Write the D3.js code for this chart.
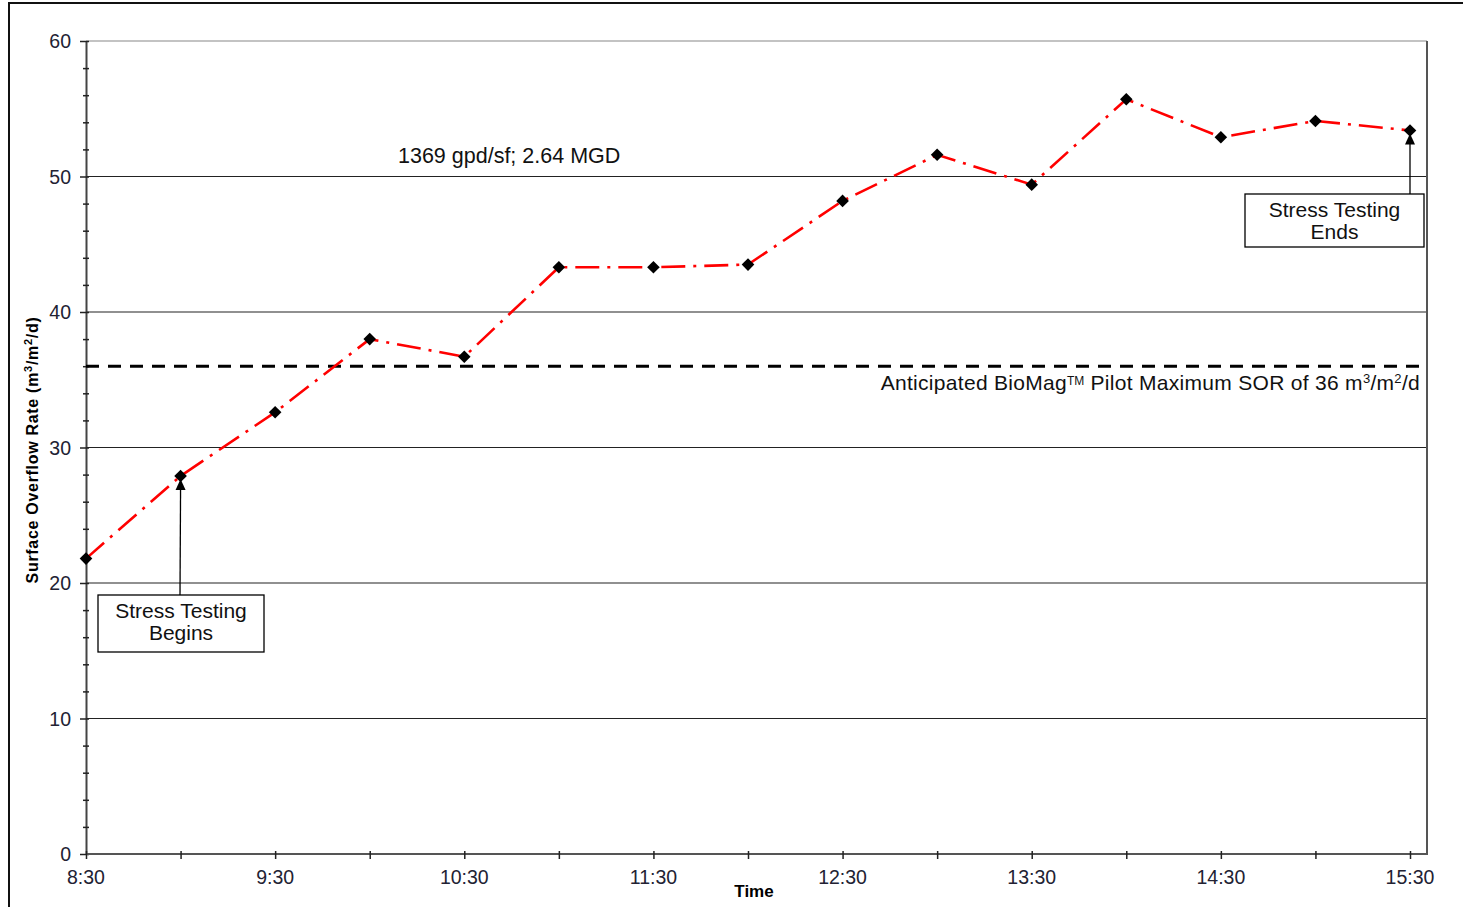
<!DOCTYPE html>
<html><head><meta charset="utf-8">
<script src="https://cdn.jsdelivr.net/npm/d3@7"></script>
<style>body{margin:0;background:#fff}svg{display:block;font-family:"Liberation Sans",Arial,sans-serif}</style>
</head><body>
<svg id="c" width="1463" height="907"></svg>
<script>
const times = ["8:30","9:00","9:30","10:00","10:30","11:00","11:30","12:00","12:30","13:00","13:30","14:00","14:30","15:00","15:30"];
const sor = [21.8,27.9,32.6,38.0,36.7,43.3,43.3,43.5,48.2,51.6,49.4,55.7,52.9,54.1,53.4];
const xTickLabels = ["8:30","9:30","10:30","11:30","12:30","13:30","14:30","15:30"];
const yTicks = [0,10,20,30,40,50,60];
const threshold = 36;
const topLabel = "1369 gpd/sf; 2.64 MGD";
const annotations = [{text:["Stress Testing","Begins"], idx:1}, {text:["Stress Testing","Ends"], idx:14}];

const toMin = s => { const [h,m] = s.split(":").map(Number); return h*60+m; };
const svg = d3.select("#c");
const L=86, R=1427, T=41, B=854;
const x = d3.scaleLinear().domain([510, 930]).range([L, 1410]);
const y = d3.scaleLinear().domain([0, 60]).range([B, T]);

// outer frame
svg.append("rect").attr("x",9).attr("y",3).attr("width",1470).attr("height",920)
  .attr("fill","none").attr("stroke","#111").attr("stroke-width",2);

// gridlines
svg.append("g").selectAll("line").data(yTicks.filter(d=>d>0)).join("line")
  .attr("x1",L).attr("x2",R).attr("y1",d=>y(d)).attr("y2",d=>y(d))
  .attr("stroke",d=>d===60?"#888":"#222").attr("stroke-width",1.2);
svg.append("line").attr("x1",R).attr("x2",R).attr("y1",T).attr("y2",B).attr("stroke","#888").attr("stroke-width",1.5);

// y axis
const yAxis = d3.axisLeft(y).tickValues(d3.range(0,61,2)).tickSize(0).tickFormat("");
const gy = svg.append("g").attr("transform",`translate(${L},0)`).call(yAxis);
gy.select(".domain").attr("stroke","#444").attr("stroke-width",2);
gy.selectAll(".tick line").attr("x1",d=>d%10===0?-6:-3).attr("x2",3).attr("stroke","#222").attr("stroke-width",1.5);
svg.append("g").selectAll("text").data(yTicks).join("text")
  .attr("x",71).attr("y",d=>y(d)+7).attr("text-anchor","end").attr("font-size",19.5).attr("fill","#223")
  .text(d=>d);

// x axis
const xAxis = d3.axisBottom(x).tickValues(times.map(toMin)).tickSize(0).tickFormat("");
const gx = svg.append("g").attr("transform",`translate(0,${B})`).call(xAxis);
gx.select(".domain").attr("d",`M${L},0H${R}V${-(B-T)}`).attr("stroke","#555").attr("stroke-width",2);
gx.selectAll(".tick line").attr("y1",-3).attr("y2",5).attr("stroke","#222").attr("stroke-width",1.5);
svg.append("g").selectAll("text").data(xTickLabels).join("text")
  .attr("x",d=>x(toMin(d))).attr("y",884).attr("text-anchor","middle").attr("font-size",19.5).attr("fill","#223")
  .text(d=>d);

// axis titles
svg.append("text").attr("x",754).attr("y",897).attr("text-anchor","middle").attr("font-size",17).attr("font-weight","bold").text("Time");
const yt = svg.append("text").attr("transform","translate(38,450) rotate(-90)").attr("text-anchor","middle")
  .attr("font-size",16).attr("font-weight","bold").attr("letter-spacing",0.7);
yt.append("tspan").text("Surface Overflow Rate (m");
yt.append("tspan").attr("font-size",11).attr("dy",-6).text("3");
yt.append("tspan").attr("dy",6).text("/m");
yt.append("tspan").attr("font-size",11).attr("dy",-6).text("2");
yt.append("tspan").attr("dy",6).text("/d)");

// threshold
svg.append("line").attr("x1",L).attr("x2",R).attr("y1",y(threshold)).attr("y2",y(threshold))
  .attr("stroke","#000").attr("stroke-width",3).attr("stroke-dasharray","13,9");
const tl = svg.append("text").attr("x",1420).attr("y",390).attr("text-anchor","end").attr("font-size",21).attr("letter-spacing",0.3).attr("fill","#111");
tl.append("tspan").text("Anticipated BioMag");
tl.append("tspan").attr("font-size",12).attr("dy",-5).attr("letter-spacing",0).text("TM");
tl.append("tspan").attr("dy",5).text(" Pilot Maximum SOR of 36 m");
tl.append("tspan").attr("font-size",13).attr("dy",-7).text("3");
tl.append("tspan").attr("dy",7).text("/m");
tl.append("tspan").attr("font-size",13).attr("dy",-7).text("2");
tl.append("tspan").attr("dy",7).text("/d");

svg.append("text").attr("x",398).attr("y",163).attr("font-size",21.5).attr("fill","#111").text(topLabel);

// data line
const pts = times.map((t,i)=>({x:toMin(t), y:sor[i]}));
svg.append("path").datum(pts).attr("fill","none").attr("stroke","#f00").attr("stroke-width",2.6)
  .attr("stroke-dasharray","24,8,3,8")
  .attr("d",d3.line().x(d=>x(d.x)).y(d=>y(d.y)));
svg.append("g").selectAll("path").data(pts).join("path")
  .attr("transform",d=>`translate(${x(d.x)},${y(d.y)})`)
  .attr("d","M0,-6.3L6.3,0L0,6.3L-6.3,0Z").attr("fill","#000");

// annotations
function annot(a, bx, by, bw, bh, ax){
  const p = pts[a.idx];
  const tx = x(p.x), ty = y(p.y)+3;
  svg.append("line").attr("x1",ax).attr("y1",by).attr("x2",tx).attr("y2",ty+8)
    .attr("stroke","#000").attr("stroke-width",1.3);
  svg.append("path").attr("d",`M${tx},${ty}L${tx+5},${ty+11}L${tx-5},${ty+11}Z`).attr("fill","#000");
  svg.append("rect").attr("x",bx).attr("y",by).attr("width",bw).attr("height",bh)
    .attr("fill","#fff").attr("stroke","#000").attr("stroke-width",1.3);
  svg.append("text").attr("x",bx+bw/2).attr("y",by+23).attr("text-anchor","middle").attr("font-size",21).attr("fill","#111").text(a.text[0]);
  svg.append("text").attr("x",bx+bw/2).attr("y",by+45).attr("text-anchor","middle").attr("font-size",21).attr("fill","#111").text(a.text[1]);
}
annot(annotations[0], 98, 595, 166, 57, 180);
annot(annotations[1], 1245, 194, 179, 53, 1410);
</script>
</body></html>
